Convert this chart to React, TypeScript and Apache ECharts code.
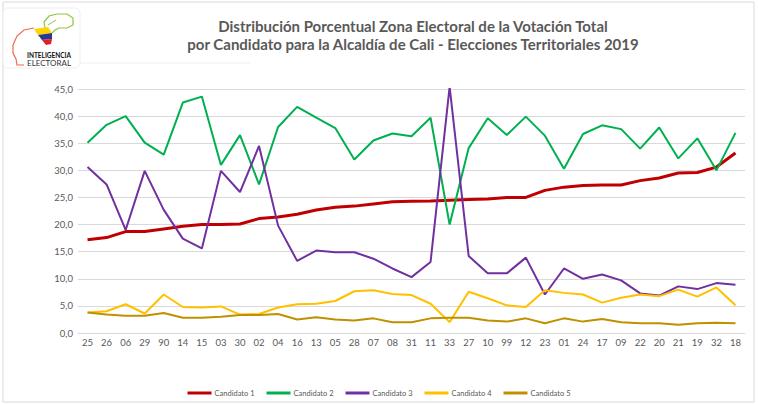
import React, { useEffect, useRef } from "react";
import * as echarts from "echarts";

const categories = ["25","26","06","29","90","14","15","03","30","02","04","16","13","05","28","07","08","31","11","33","27","10","99","12","23","01","24","17","09","22","20","21","19","32","18"];

const candidato1 = [17.2,17.6,18.7,18.7,19.2,19.7,20.0,20.0,20.1,21.1,21.4,21.9,22.7,23.2,23.4,23.8,24.2,24.3,24.35,24.5,24.6,24.7,25.0,25.0,26.3,26.9,27.2,27.3,27.3,28.1,28.6,29.5,29.6,30.6,33.2];
const candidato2 = [35.1,38.4,40.0,35.1,32.9,42.5,43.6,31.0,36.5,27.4,38.0,41.7,39.7,37.8,32.0,35.5,36.8,36.3,39.7,20.0,34.1,39.6,36.5,39.9,36.4,30.3,36.7,38.3,37.6,34.0,37.9,32.2,35.9,30.0,36.9];
const candidato3 = [30.6,27.4,19.0,29.9,22.7,17.4,15.6,29.9,26.0,34.5,19.8,13.3,15.2,14.9,14.9,13.7,11.9,10.3,13.1,45.4,14.2,11.0,11.0,13.9,7.1,11.9,10.0,10.8,9.7,7.3,6.9,8.6,8.1,9.2,8.9];
const candidato4 = [3.8,4.0,5.3,3.6,7.1,4.8,4.7,4.9,3.4,3.5,4.7,5.3,5.4,5.9,7.7,7.9,7.2,7.0,5.4,2.0,7.6,6.4,5.1,4.8,7.9,7.4,7.1,5.6,6.5,7.1,6.8,8.0,6.7,8.4,5.1];
const candidato5 = [3.8,3.4,3.2,3.2,3.7,2.8,2.8,3.0,3.3,3.3,3.5,2.5,2.9,2.5,2.3,2.7,2.0,2.0,2.7,2.8,2.8,2.3,2.1,2.7,1.8,2.7,2.1,2.6,2.0,1.8,1.8,1.5,1.8,1.9,1.8];

const seriesNames = ["Candidato 1","Candidato 2","Candidato 3","Candidato 4","Candidato 5"];
const seriesColors = ["#C00000","#00B050","#7030A0","#FFC000","#BF9000"];
const seriesData = [candidato1, candidato2, candidato3, candidato4, candidato5];

const titleLines = [
  "Distribución Porcentual Zona Electoral de la Votación Total",
  "por Candidato para la Alcaldía de Cali - Elecciones Territoriales 2019",
];

const FONT = "Lato, 'Open Sans', sans-serif";

export default function App() {
  const ref = useRef<HTMLDivElement>(null);
  useEffect(() => {
    if (!ref.current) return;
    const chart = echarts.init(ref.current, undefined, { renderer: "svg" });
    chart.setOption({
      animation: false,
      backgroundColor: "#ffffff",
      textStyle: { fontFamily: FONT },
      title: {
        text: titleLines.join("\n"),
        left: 408,
        top: 12,
        textAlign: "center",
        textStyle: {
          fontFamily: FONT,
          fontSize: 15,
          fontWeight: "bold",
          color: "#595959",
          lineHeight: 18,
        },
      },
      grid: { left: 78, right: 13, top: 89, bottom: 71, containLabel: false },
      xAxis: {
        type: "category",
        data: categories,
        boundaryGap: true,
        axisLine: { lineStyle: { color: "#d9d9d9", width: 1 } },
        axisTick: { show: false },
        axisLabel: { color: "#595959", fontSize: 9.5, margin: 4, interval: 0, fontFamily: FONT },
      },
      yAxis: {
        type: "value",
        min: 0,
        max: 45,
        interval: 5,
        axisLine: { show: false },
        axisTick: { show: false },
        splitLine: { lineStyle: { color: "#d9d9d9", width: 1 } },
        axisLabel: {
          color: "#595959",
          fontSize: 9.5,
          margin: 5,
          fontFamily: FONT,
          formatter: (v: number) => v.toFixed(1).replace(".", ","),
        },
      },
      legend: {
        data: seriesNames,
        left: "center",
        bottom: 2,
        icon: "rect",
        itemWidth: 24,
        itemHeight: 3,
        itemGap: 12,
        textStyle: { color: "#595959", fontSize: 7.5, fontFamily: FONT, padding: [0, 0, 0, -2] },
      },
      series: seriesData.map((d, i) => ({
        name: seriesNames[i],
        type: "line",
        data: d,
        symbol: "none",
        smooth: false,
        lineStyle: { color: seriesColors[i], width: i === 0 ? 3 : 2 },
        itemStyle: { color: seriesColors[i] },
        z: 2 + i,
      })),
      graphic: [
        {
          type: "rect",
          shape: { x: 3, y: 2, width: 751, height: 400 },
          style: { fill: "none", stroke: "#d9d9d9", lineWidth: 1 },
          silent: true,
          z: -1,
        },
        {
          type: "line",
          shape: { x1: 80, y1: 63, x2: 250, y2: 63 },
          style: { stroke: "#eeeeee", lineWidth: 1 },
          silent: true,
        },
        {
          type: "rect",
          shape: { x: 3, y: 8, width: 77, height: 60, r: 5 },
          style: { fill: "#ffffff", stroke: "#eeeeee", lineWidth: 1 },
          silent: true,
        },
        {
          type: "polyline",
          shape: { points: [[34, 28], [24, 30], [17, 36], [13, 45], [13, 53], [16, 59], [17, 65], [24, 65]] },
          style: { stroke: "#EE6A4D", lineWidth: 1.2, fill: "none" },
          silent: true,
        },
        {
          type: "polyline",
          shape: { points: [[45, 28], [44, 22], [49, 16], [57, 14], [67, 14], [73, 18], [73, 25], [67, 28], [59, 28], [55, 30], [52, 33]] },
          style: { stroke: "#8DC63F", lineWidth: 1.2, fill: "none" },
          silent: true,
        },
        {
          type: "polyline",
          shape: { points: [[48, 25], [56, 20]] },
          style: { stroke: "#8DC63F", lineWidth: 1, fill: "none" },
          silent: true,
        },
        {
          type: "polygon",
          shape: { points: [[34, 29], [48, 27], [52, 33], [38, 35]] },
          style: { fill: "#FFD500" },
          silent: true,
        },
        {
          type: "polygon",
          shape: { points: [[38, 35], [52, 33], [52, 39], [42, 40]] },
          style: { fill: "#2B3990" },
          silent: true,
        },
        {
          type: "polygon",
          shape: { points: [[42, 40], [52, 39], [51, 44], [46, 45]] },
          style: { fill: "#E01E2D" },
          silent: true,
        },
        {
          type: "text",
          x: 49,
          y: 55,
          style: { text: "INTELIGENCIA", fill: "#111111", font: "bold 6.5px " + FONT, textAlign: "center", textVerticalAlign: "middle" },
          silent: true,
        },
        {
          type: "text",
          x: 49,
          y: 62.5,
          style: { text: "ELECTORAL", fill: "#333333", font: "8px " + FONT, textAlign: "center", textVerticalAlign: "middle" },
          silent: true,
        },
      ],
    });
    return () => chart.dispose();
  }, []);
  return <div ref={ref} style={{ width: 758, height: 404, position: "absolute", left: 0, top: 0 }} />;
}
